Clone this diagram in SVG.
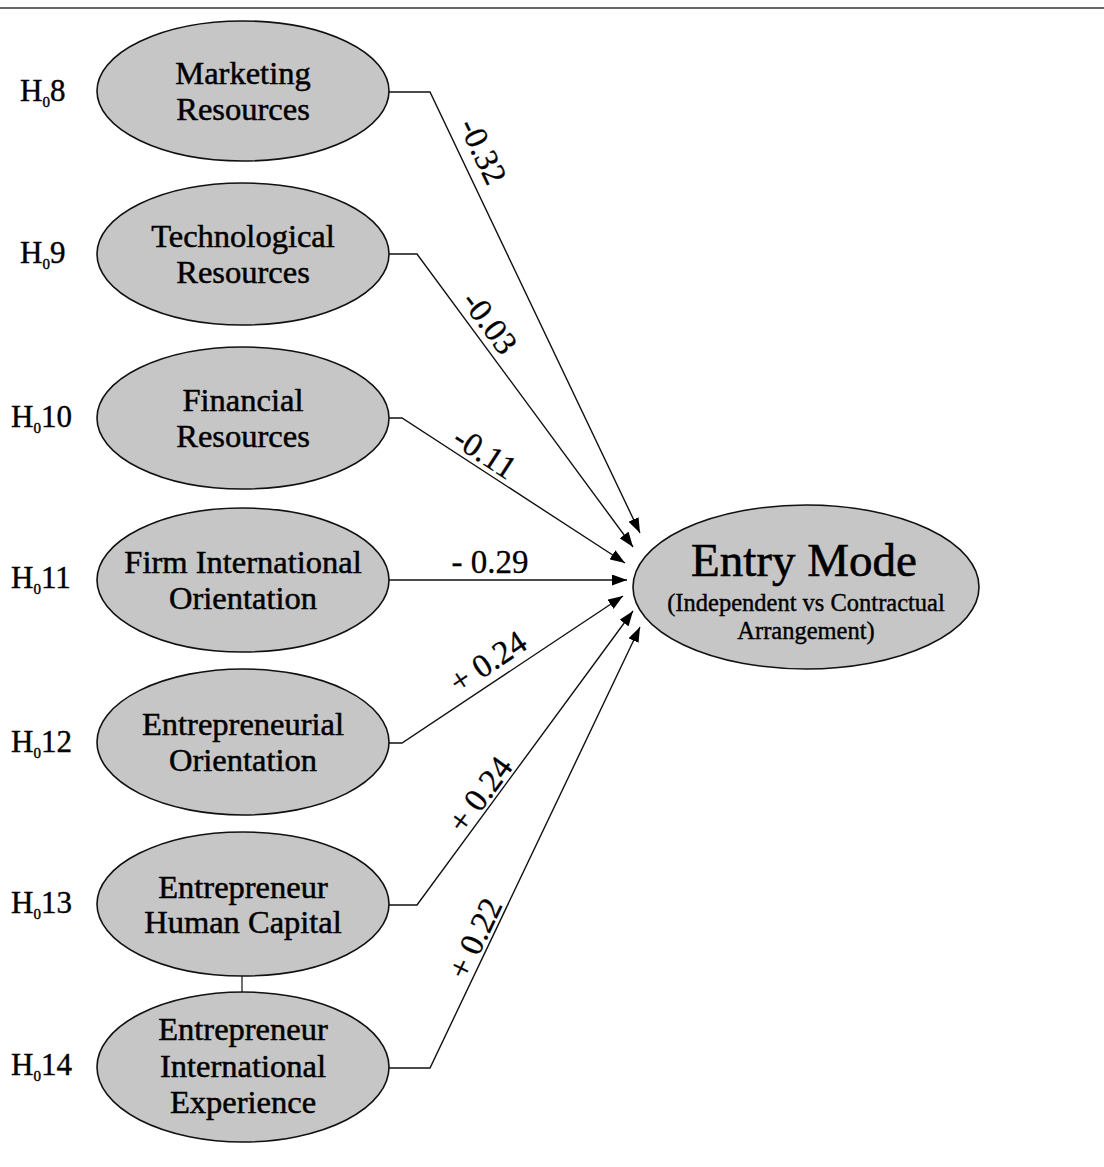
<svg xmlns="http://www.w3.org/2000/svg" width="1104" height="1167" viewBox="0 0 1104 1167">
  <style>
    .node { fill: #c6c6c6; stroke: #111; stroke-width: 1.6; }
    .ntext { font-family: "Liberation Serif", "Times New Roman", serif; font-size: 32.5px; fill: #000; stroke: #000; stroke-width: 0.5; text-anchor: middle; }
    .hlab { font-family: "Liberation Serif", "Times New Roman", serif; font-size: 31px; fill: #000; stroke: #000; stroke-width: 0.4; }
    .sub { font-size: 15px; }
    .edge { fill: none; stroke: #111; stroke-width: 1.4; marker-end: url(#arrow); }
    .link { fill: none; stroke: #111; stroke-width: 1.2; }
    .coef { font-family: "Liberation Serif", "Times New Roman", serif; font-size: 33px; fill: #000; stroke: #000; stroke-width: 0.3; text-anchor: middle; }
  </style>
  <defs>
    <marker id="arrow" markerUnits="userSpaceOnUse" markerWidth="15" markerHeight="11" refX="15" refY="5.5" orient="auto">
      <path d="M0,0 L15,5.5 L0,11 z" fill="#000"/>
    </marker>
  </defs>

  <rect width="1104" height="1167" fill="#fff"/>
  <!-- rule across the top -->
  <line x1="0" y1="8" x2="1104" y2="8" stroke="#666" stroke-width="2"/>

  <!-- hypothesis labels -->
  <g id="hyp-labels">
    <text class="hlab" x="20" y="101">H<tspan class="sub" dy="6">0</tspan><tspan dy="-6">8</tspan></text>
    <text class="hlab" x="20" y="263">H<tspan class="sub" dy="6">0</tspan><tspan dy="-6">9</tspan></text>
    <text class="hlab" x="11" y="427">H<tspan class="sub" dy="6">0</tspan><tspan dy="-6">10</tspan></text>
    <text class="hlab" x="11" y="588">H<tspan class="sub" dy="6">0</tspan><tspan dy="-6">11</tspan></text>
    <text class="hlab" x="11" y="752">H<tspan class="sub" dy="6">0</tspan><tspan dy="-6">12</tspan></text>
    <text class="hlab" x="11" y="913">H<tspan class="sub" dy="6">0</tspan><tspan dy="-6">13</tspan></text>
    <text class="hlab" x="11" y="1075">H<tspan class="sub" dy="6">0</tspan><tspan dy="-6">14</tspan></text>
  </g>

  <!-- connectors -->
  <g id="connectors">
    <polyline class="edge" points="389,92 430,92 640,533"/>
    <polyline class="edge" points="389,254 417,254 633,547"/>
    <polyline class="edge" points="389,418 402,418 625,563"/>
    <polyline class="edge" points="389,580 627,580"/>
    <polyline class="edge" points="389,743 402,743 623,596"/>
    <polyline class="edge" points="389,905 417,905 633,611"/>
    <polyline class="edge" points="389,1068 430,1068 640,627"/>
    <line class="link" x1="242" y1="976" x2="242" y2="992"/>

    <text class="coef" transform="translate(473,156) rotate(64.5)">-0.32</text>
    <text class="coef" transform="translate(481,329) rotate(53.6)">-0.03</text>
    <text class="coef" transform="translate(479,462) rotate(33)">-0.11</text>
    <text class="coef" x="490" y="573">- 0.29</text>
    <text class="coef" transform="translate(494,671) rotate(-33.6)">+ 0.24</text>
    <text class="coef" transform="translate(489,801) rotate(-53.7)">+ 0.24</text>
    <text class="coef" transform="translate(485,943) rotate(-64.5)">+ 0.22</text>
  </g>

  <!-- predictor nodes -->
  <g id="marketing">
    <ellipse class="node" cx="243" cy="91" rx="146" ry="70"/>
    <text class="ntext" x="243" y="84">Marketing</text>
    <text class="ntext" x="243" y="120">Resources</text>
  </g>
  <g id="technological">
    <ellipse class="node" cx="243" cy="254" rx="146" ry="71"/>
    <text class="ntext" x="243" y="247">Technological</text>
    <text class="ntext" x="243" y="283">Resources</text>
  </g>
  <g id="financial">
    <ellipse class="node" cx="243" cy="418" rx="146" ry="71"/>
    <text class="ntext" x="243" y="411">Financial</text>
    <text class="ntext" x="243" y="447">Resources</text>
  </g>
  <g id="firm-orientation">
    <ellipse class="node" cx="243" cy="580" rx="146" ry="72"/>
    <text class="ntext" x="243" y="573">Firm International</text>
    <text class="ntext" x="243" y="609">Orientation</text>
  </g>
  <g id="entrepreneurial-orientation">
    <ellipse class="node" cx="243" cy="742" rx="146" ry="73"/>
    <text class="ntext" x="243" y="735">Entrepreneurial</text>
    <text class="ntext" x="243" y="771">Orientation</text>
  </g>
  <g id="human-capital">
    <ellipse class="node" cx="243" cy="904" rx="146" ry="72"/>
    <text class="ntext" x="243" y="898">Entrepreneur</text>
    <text class="ntext" x="243" y="933">Human Capital</text>
  </g>
  <g id="intl-experience">
    <ellipse class="node" cx="243" cy="1067" rx="146" ry="75"/>
    <text class="ntext" x="243" y="1040">Entrepreneur</text>
    <text class="ntext" x="243" y="1077">International</text>
    <text class="ntext" x="243" y="1113">Experience</text>
  </g>

  <!-- outcome node -->
  <g id="entry-mode">
    <ellipse class="node" cx="806" cy="587" rx="173" ry="82"/>
    <text class="ntext" x="804" y="576" style="font-size:47px;stroke-width:0.6">Entry Mode</text>
    <text class="ntext" x="806" y="611" style="font-size:24.5px;stroke-width:0.4">(Independent vs Contractual</text>
    <text class="ntext" x="806" y="639" style="font-size:24.5px;stroke-width:0.4">Arrangement)</text>
  </g>
</svg>
